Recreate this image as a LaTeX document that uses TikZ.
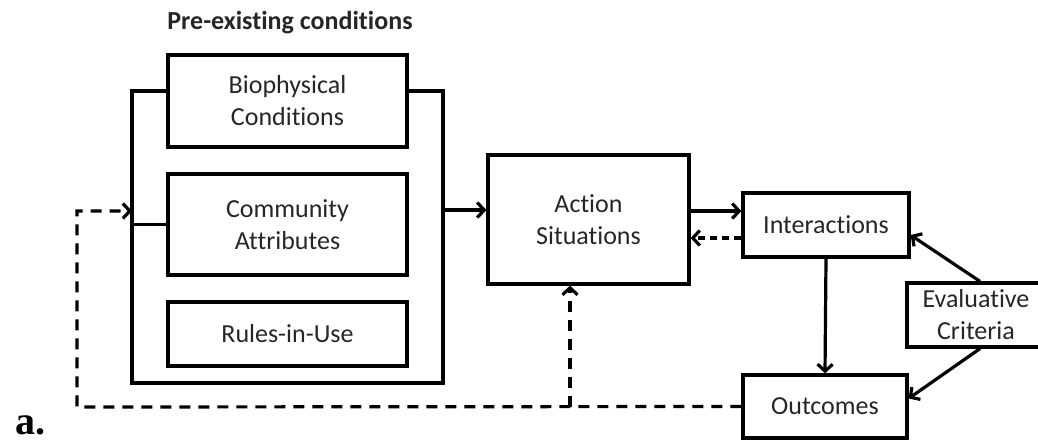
\documentclass[tikz,border=0pt]{standalone}
\usepackage{fontspec}
\setsansfont{Carlito}[Ligatures=NoCommon]
\newfontfamily\labelfont{Liberation Serif}
\usetikzlibrary{arrows.meta,calc}

\begin{document}
\begin{tikzpicture}[x=1pt, y=-1pt,
		box/.style={draw, line width=3.2pt, align=center, inner sep=0pt,
			font=\sffamily\fontsize{26}{32}\selectfont, text=black!85},
		conn/.style={line width=3.2pt},
		dashline/.style={line width=3.2pt, dash pattern=on 11pt off 8pt},
		>={Straight Barb[length=7pt,width=15pt]}]

		\useasboundingbox (0,0) rectangle (1038,441);

		\node[font=\sffamily\bfseries\fontsize{26}{30}\selectfont, text=black!85] (title) at (290,23) {Pre-existing conditions};

		\node[box, minimum width=239pt, minimum height=92pt] (bio) at (287.5,101) {Biophysical\\Conditions};
		\node[box, minimum width=239pt, minimum height=101pt] (comm) at (287.5,224.5) {Community\\Attributes};
		\node[box, minimum width=239pt, minimum height=64pt] (rules) at (287.5,334) {Rules-in-Use};

		\node[box, minimum width=201pt, minimum height=129pt] (act) at (588.5,219.5) {Action\\Situations};
		\node[box, minimum width=166pt, minimum height=64pt] (inter) at (826,225) {Interactions};
		\node[box, minimum width=164pt, minimum height=63pt] (outc) at (825,406.5) {Outcomes};
		\node[box, minimum width=138pt, minimum height=64pt] (eval) at (976,315) {Evaluative\\Criteria};

		\node[font=\labelfont\bfseries\fontsize{40}{40}\selectfont, anchor=south west, inner sep=0pt] (lbl) at (15,435) {a.};

		\coordinate (tl) at (132,91);
		\coordinate (tr) at (443,91);
		\coordinate (out) at (443,210);
		\draw[conn] (bio.west |- tl) -- (tl) -- (132,383) -- (443,383) -- (tr) -- (bio.east |- tr);
		\draw[conn] (comm.west -| tl) -- (comm.west);
		\draw[conn, ->] (out) -- (act.west |- out);

		\coordinate (ai) at (0,211);
		\coordinate (ia) at (0,238);
		\draw[conn, ->] (act.east |- ai) -- (inter.west |- ai);
		\draw[line width=3.2pt, dash pattern=on 7pt off 5pt, ->] (inter.west |- ia) -- (act.east |- ia);

		\draw[conn, ->] (inter.south) -- (outc.north);
		\draw[conn, ->] ($(eval.north)+(4,0)$) -- ($(inter.east)+(0,10)$);
		\draw[conn, ->] ($(eval.south)+(4,0)$) -- ($(outc.east)+(0,-8)$);

		\coordinate (fb) at (77,407);
		\coordinate (fbt) at (77,211);
		\coordinate (br) at (570,407);
		\draw[dashline, ->] (outc.west) -- (fb) -- (fbt) -- (tl |- fbt);
		\draw[dashline, ->] (br) -- (act.south -| br);
	\end{tikzpicture}
\end{document}
